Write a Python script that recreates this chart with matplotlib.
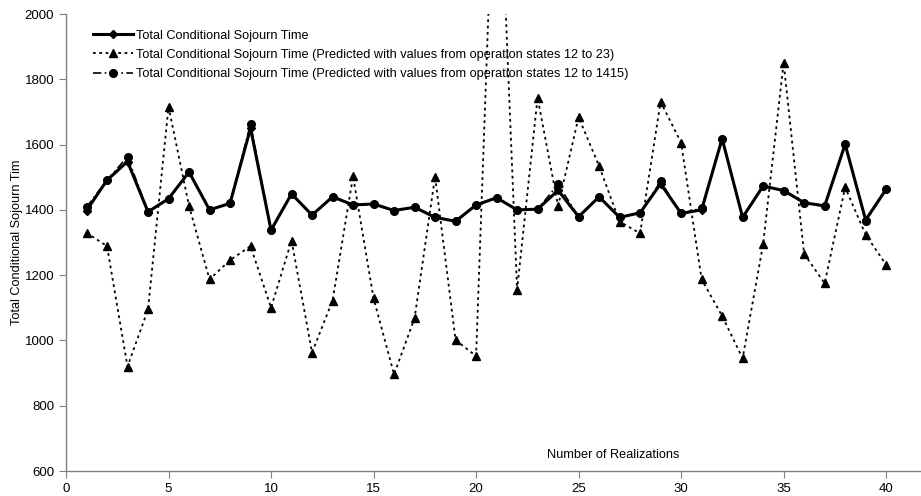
import matplotlib
matplotlib.use("Agg")
import matplotlib.pyplot as plt

plt.rcParams['font.family'] = ['Liberation Sans', 'DejaVu Sans']

realizations = list(range(1, 41))

sojourn = [1398, 1491, 1548, 1394, 1434, 1516, 1400, 1420, 1650, 1338,
           1449, 1384, 1440, 1415, 1418, 1398, 1408, 1377, 1365, 1415,
           1437, 1400, 1402, 1460, 1379, 1440, 1377, 1391, 1480, 1389,
           1400, 1618, 1377, 1473, 1459, 1422, 1412, 1601, 1369, 1463]

pred_12_23 = [1330, 1289, 920, 1095, 1716, 1412, 1187, 1246, 1289, 1100,
              1306, 963, 1122, 1503, 1129, 896, 1068, 1502, 1001, 952,
              2700, 1155, 1744, 1412, 1684, 1534, 1364, 1328, 1731, 1606,
              1187, 1075, 945, 1295, 1851, 1265, 1175, 1469, 1324, 1232]

pred_12_1415 = [1408, 1491, 1563, 1394, 1434, 1516, 1400, 1420, 1663, 1338,
                1449, 1384, 1440, 1415, 1418, 1398, 1408, 1377, 1365, 1415,
                1437, 1400, 1402, 1478, 1379, 1440, 1377, 1391, 1487, 1389,
                1405, 1618, 1377, 1473, 1459, 1422, 1412, 1601, 1365, 1463]

labels = ["Total Conditional Sojourn Time",
          "Total Conditional Sojourn Time (Predicted with values from operation states 12 to 23)",
          "Total Conditional Sojourn Time (Predicted with values from operation states 12 to 1415)"]

fig = plt.figure(figsize=(9.21, 4.96), dpi=100)
ax = fig.add_axes([66/921, 25/496, 1 - 66/921, (471 - 14)/496])

ax.plot(realizations, sojourn, color='black', lw=2.2, marker='D', ms=4,
        label=labels[0], zorder=4)
ax.plot(realizations, pred_12_23, color='black', lw=1.3, ls=(0, (1.5, 2)),
        marker='^', ms=6, label=labels[1], zorder=3)
ax.plot(realizations, pred_12_1415, color='black', lw=1.2, ls=(0, (5, 2, 1, 2)),
        marker='o', ms=5.5, label=labels[2], zorder=3)

ax.set_xlim(0, 41.7)
ax.set_ylim(600, 2000)
ax.set_xticks(range(0, 45, 5))
ax.set_yticks(range(600, 2001, 200))

for s in ['top', 'right']:
    ax.spines[s].set_visible(False)
for s in ['left', 'bottom']:
    ax.spines[s].set_color('#808080')
    ax.spines[s].set_linewidth(1.0)
ax.tick_params(direction='out', length=5, color='#808080', labelsize=9.5)

ax.set_ylabel("Total Conditional Sojourn Tim", fontsize=9.2)
ax.yaxis.set_label_coords(-0.05, 0.5)
ax.text(0.64, 0.035, "Number of Realizations", transform=ax.transAxes,
        fontsize=9.2, ha='center', va='center')

ax.legend(loc='upper left', bbox_to_anchor=(0.032, 0.966), frameon=False,
          fontsize=9.2, handlelength=3.1, handletextpad=0.2, labelspacing=0.58,
          borderaxespad=0, borderpad=0)

fig.savefig("out.png", dpi=100)
